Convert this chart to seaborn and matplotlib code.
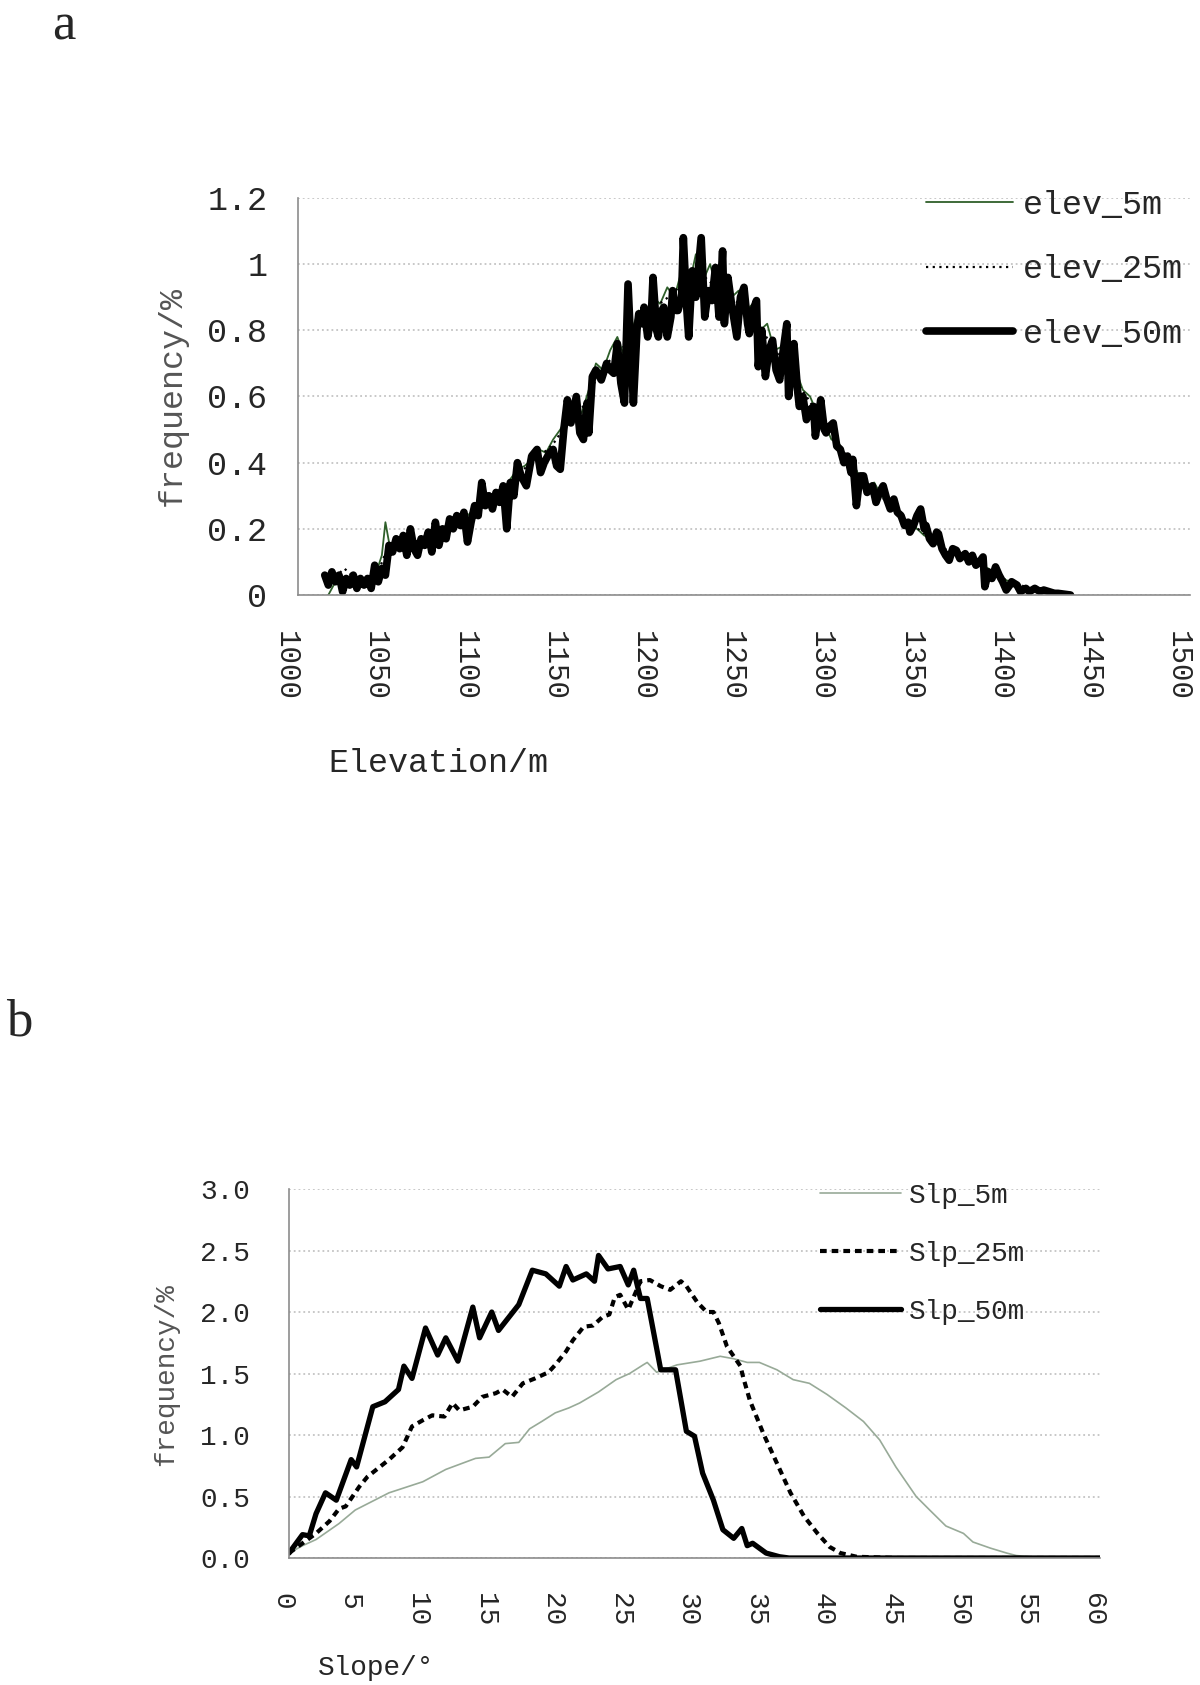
import numpy as np
import pandas as pd
import matplotlib
matplotlib.use("Agg")
import matplotlib.pyplot as plt
import matplotlib.transforms as mtransforms
import seaborn as sns

# ---- panel a: elevation frequency ----
elev50_x = [1015, 1017, 1019, 1021, 1023, 1025, 1027, 1029, 1031, 1033, 1035, 1037, 1039, 1041, 1043, 1045,
            1047, 1049, 1051, 1053, 1055, 1057, 1059, 1061, 1063, 1065, 1067, 1069, 1071, 1073, 1075, 1077,
            1079, 1081, 1083, 1085, 1087, 1089, 1091, 1093, 1095, 1097, 1099, 1101, 1103, 1105, 1107, 1109,
            1111, 1113, 1115, 1117, 1119, 1121, 1123, 1125, 1128, 1131, 1134, 1136, 1138, 1141, 1143, 1145,
            1147, 1149, 1151, 1153, 1156, 1158, 1160, 1162, 1163, 1165, 1167, 1170, 1173, 1175, 1177, 1179,
            1181, 1183, 1185, 1187, 1188, 1190, 1191, 1193, 1194, 1196, 1198, 1199, 1201, 1202, 1204, 1205,
            1207, 1209, 1210, 1212, 1213, 1215, 1216, 1218, 1219, 1221, 1223, 1226, 1228, 1230, 1232, 1234,
            1236, 1238, 1239, 1241, 1243, 1246, 1248, 1250, 1252, 1253, 1255, 1257, 1258, 1260, 1262, 1264,
            1266, 1268, 1270, 1272, 1274, 1275, 1277, 1278, 1280, 1281, 1283, 1285, 1287, 1289, 1290, 1292,
            1293, 1295, 1296, 1298, 1300, 1302, 1304, 1306, 1308, 1310, 1311, 1313, 1315, 1317, 1319, 1320,
            1322, 1324, 1326, 1328, 1330, 1332, 1334, 1336, 1338, 1340, 1342, 1343, 1345, 1347, 1349, 1351,
            1352, 1354, 1356, 1358, 1359, 1361, 1363, 1365, 1367, 1369, 1371, 1374, 1376, 1378, 1380, 1382,
            1384, 1385, 1387, 1389, 1391, 1393, 1395, 1397, 1399, 1400, 1403, 1405, 1408, 1410, 1413, 1416,
            1418, 1421, 1424, 1426, 1430, 1433]
elev50_y = [0.06, 0.03, 0.07, 0.04, 0.06, 0.01, 0.05, 0.03, 0.06, 0.02, 0.05, 0.03, 0.05, 0.02, 0.09, 0.04,
            0.08, 0.06, 0.15, 0.13, 0.17, 0.14, 0.18, 0.12, 0.20, 0.14, 0.12, 0.17, 0.15, 0.19, 0.13, 0.22,
            0.15, 0.20, 0.17, 0.23, 0.20, 0.24, 0.21, 0.25, 0.16, 0.22, 0.27, 0.24, 0.34, 0.27, 0.30, 0.26,
            0.31, 0.28, 0.33, 0.20, 0.34, 0.30, 0.40, 0.36, 0.33, 0.42, 0.44, 0.37, 0.40, 0.43, 0.44, 0.39,
            0.38, 0.50, 0.59, 0.52, 0.60, 0.49, 0.47, 0.58, 0.49, 0.66, 0.68, 0.65, 0.70, 0.68, 0.67, 0.76,
            0.64, 0.58, 0.94, 0.70, 0.58, 0.80, 0.85, 0.82, 0.87, 0.78, 0.84, 0.96, 0.80, 0.78, 0.86, 0.87,
            0.78, 0.84, 0.92, 0.86, 0.86, 0.90, 1.08, 0.86, 0.78, 0.98, 0.90, 1.08, 0.84, 0.92, 0.89, 0.99,
            0.84, 1.04, 0.82, 0.96, 0.88, 0.78, 0.90, 0.93, 0.82, 0.79, 0.86, 0.89, 0.69, 0.80, 0.66, 0.74,
            0.77, 0.68, 0.65, 0.74, 0.82, 0.60, 0.70, 0.76, 0.62, 0.57, 0.60, 0.53, 0.56, 0.57, 0.48, 0.55,
            0.59, 0.50, 0.49, 0.51, 0.52, 0.45, 0.44, 0.40, 0.42, 0.37, 0.41, 0.27, 0.36, 0.36, 0.31, 0.32,
            0.33, 0.28, 0.31, 0.33, 0.29, 0.26, 0.29, 0.25, 0.24, 0.21, 0.22, 0.19, 0.21, 0.24, 0.26, 0.20,
            0.21, 0.17, 0.155, 0.19, 0.185, 0.14, 0.12, 0.105, 0.14, 0.135, 0.11, 0.125, 0.10, 0.12, 0.09, 0.10,
            0.115, 0.025, 0.07, 0.05, 0.085, 0.06, 0.04, 0.015, 0.03, 0.04, 0.03, 0.01, 0.02, 0.01, 0.02, 0.01,
            0.015, 0.01, 0.005, 0.005, 0.002, 0.0]

elev5_x = [1017, 1020, 1024, 1028, 1032, 1036, 1040, 1044, 1047, 1049, 1051, 1055, 1059, 1063, 1067, 1071,
           1075, 1079, 1083, 1087, 1091, 1095, 1099, 1103, 1107, 1111, 1115, 1119, 1123, 1127, 1131, 1135,
           1139, 1143, 1147, 1151, 1155, 1159, 1163, 1167, 1171, 1175, 1179, 1183, 1187, 1191, 1195, 1199,
           1203, 1207, 1211, 1215, 1219, 1223, 1227, 1231, 1235, 1239, 1243, 1247, 1251, 1255, 1259, 1263,
           1267, 1271, 1275, 1279, 1283, 1287, 1291, 1295, 1299, 1303, 1307, 1311, 1315, 1319, 1323, 1327,
           1331, 1335, 1339, 1343, 1347, 1351, 1355, 1359, 1363, 1367, 1371, 1375, 1379, 1383, 1387, 1391,
           1395, 1399, 1403, 1407, 1411, 1415, 1420, 1425, 1430]
elev5_y = [0.00, 0.03, 0.05, 0.04, 0.05, 0.04, 0.05, 0.07, 0.12, 0.22, 0.16, 0.14, 0.16, 0.15, 0.15, 0.17,
           0.18, 0.19, 0.21, 0.22, 0.23, 0.24, 0.26, 0.28, 0.30, 0.27, 0.31, 0.35, 0.38, 0.39, 0.41, 0.44,
           0.43, 0.47, 0.50, 0.54, 0.57, 0.55, 0.62, 0.70, 0.68, 0.74, 0.78, 0.72, 0.80, 0.86, 0.82, 0.90,
           0.88, 0.93, 0.90, 0.98, 0.93, 1.03, 0.95, 1.00, 0.92, 0.97, 0.90, 0.92, 0.86, 0.88, 0.80, 0.82,
           0.74, 0.75, 0.68, 0.68, 0.62, 0.60, 0.55, 0.52, 0.47, 0.46, 0.42, 0.39, 0.36, 0.33, 0.34, 0.30,
           0.28, 0.26, 0.23, 0.22, 0.20, 0.18, 0.17, 0.15, 0.13, 0.13, 0.11, 0.12, 0.10, 0.09, 0.08, 0.06,
           0.05, 0.04, 0.03, 0.02, 0.02, 0.01, 0.01, 0.005, 0.0]

elev25_x = [1015, 1018, 1022, 1026, 1030, 1035, 1040, 1045, 1050, 1055, 1060, 1065, 1070, 1075, 1080, 1085,
            1090, 1095, 1100, 1105, 1110, 1115, 1120, 1125, 1130, 1135, 1140, 1145, 1150, 1155, 1160, 1165,
            1170, 1175, 1180, 1185, 1190, 1195, 1200, 1205, 1210, 1215, 1220, 1225, 1230, 1235, 1240, 1245,
            1250, 1255, 1260, 1265, 1270, 1275, 1280, 1285, 1290, 1295, 1300, 1305, 1310, 1315, 1320, 1325,
            1330, 1335, 1340, 1345, 1350, 1355, 1360, 1365, 1370, 1375, 1380, 1385, 1390, 1395, 1400, 1405,
            1410, 1415, 1420, 1425, 1432]
elev25_y = [0.05, 0.07, 0.06, 0.08, 0.06, 0.05, 0.05, 0.07, 0.14, 0.15, 0.16, 0.16, 0.17, 0.18, 0.20, 0.21,
            0.22, 0.23, 0.26, 0.28, 0.29, 0.31, 0.34, 0.37, 0.40, 0.42, 0.44, 0.47, 0.52, 0.56, 0.57, 0.63,
            0.68, 0.71, 0.74, 0.76, 0.82, 0.85, 0.87, 0.89, 0.91, 0.94, 0.97, 0.98, 0.95, 0.93, 0.92, 0.89,
            0.87, 0.84, 0.80, 0.76, 0.72, 0.68, 0.64, 0.60, 0.56, 0.52, 0.48, 0.44, 0.40, 0.36, 0.33, 0.31,
            0.28, 0.26, 0.23, 0.21, 0.19, 0.17, 0.15, 0.13, 0.12, 0.11, 0.10, 0.08, 0.07, 0.05, 0.04, 0.03,
            0.02, 0.01, 0.01, 0.005, 0.0]

# ---- panel b: slope frequency ----
slp5_x = [0, 1, 2, 3.7, 4.9, 7.4, 9.9, 11.6, 13.8, 14.8, 16, 17, 17.8, 18.7, 19.7, 20.7, 21.5, 22.9, 24.2,
          25.2, 26.2, 26.5, 27.2, 28.7, 30.4, 31.9, 32.9, 33.9, 34.8, 36.1, 37.3, 38.5, 39.8, 41.2, 42.5,
          43.7, 44.9, 46.4, 47.4, 48.6, 49.9, 50.6, 51.9, 53.1, 53.8, 54.8, 56, 60]
slp5_y = [0.04, 0.10, 0.15, 0.28, 0.39, 0.53, 0.62, 0.72, 0.81, 0.82, 0.93, 0.94, 1.05, 1.11, 1.18, 1.22,
          1.26, 1.35, 1.45, 1.50, 1.57, 1.59, 1.51, 1.57, 1.60, 1.64, 1.62, 1.59, 1.59, 1.53, 1.45, 1.42,
          1.33, 1.22, 1.11, 0.96, 0.74, 0.50, 0.39, 0.26, 0.20, 0.13, 0.08, 0.04, 0.02, 0.01, 0, 0]

slp25_x = [0, 1, 2, 3, 3.7, 4.2, 5.2, 5.8, 7.4, 8.4, 9.1, 9.9, 10.6, 11.5, 12.1, 12.6, 13.6, 14.3, 15.3,
           15.8, 16.5, 17.3, 18.2, 19.2, 19.7, 20.5, 21, 21.8, 22.5, 23.2, 23.7, 24.1, 24.5, 25.1, 26, 26.7,
           27.5, 28.2, 29, 29.4, 30.2, 30.9, 31.4, 31.8, 32.4, 33.4, 33.6, 34.1, 35.1, 36.1, 37.1, 38.1,
           39.1, 40, 40.8, 42, 45, 50, 55, 60]
slp25_y = [0.04, 0.12, 0.20, 0.30, 0.40, 0.42, 0.58, 0.66, 0.80, 0.90, 1.07, 1.12, 1.16, 1.15, 1.26, 1.20,
           1.23, 1.31, 1.34, 1.37, 1.31, 1.42, 1.46, 1.51, 1.57, 1.68, 1.77, 1.88, 1.89, 1.96, 1.98, 2.12,
           2.14, 2.02, 2.25, 2.26, 2.21, 2.18, 2.25, 2.21, 2.08, 2.00, 2.00, 1.91, 1.72, 1.56, 1.47, 1.28,
           1.01, 0.77, 0.53, 0.34, 0.20, 0.09, 0.04, 0.01, 0, 0, 0, 0]

slp50_x = [0, 1, 1.5, 2, 2.7, 3.5, 4.6, 5, 6.2, 7.1, 8.1, 8.5, 9.1, 10.1, 11, 11.6, 12.5, 13.6, 14.1, 15,
           15.5, 17, 18, 19, 20, 20.5, 21, 22, 22.6, 22.9, 23.6, 24.5, 25.1, 25.5, 26, 26.5, 27.5, 28.6,
           29.4, 30, 30.6, 31.4, 32.1, 32.9, 33.5, 33.9, 34.3, 35.3, 36.3, 37, 40, 45, 50, 55, 60]
slp50_y = [0.04, 0.19, 0.18, 0.36, 0.53, 0.47, 0.80, 0.74, 1.23, 1.27, 1.37, 1.56, 1.46, 1.87, 1.65, 1.79,
           1.60, 2.04, 1.79, 2.00, 1.85, 2.06, 2.34, 2.31, 2.21, 2.37, 2.26, 2.31, 2.25, 2.46, 2.35, 2.37,
           2.22, 2.34, 2.11, 2.11, 1.53, 1.53, 1.03, 0.99, 0.69, 0.47, 0.23, 0.16, 0.24, 0.10, 0.12, 0.04,
           0.01, 0, 0, 0, 0, 0, 0]

sns.set_style("white")
plt.rcParams['font.family'] = ['Liberation Mono', 'DejaVu Sans']

W, H = 1200, 1685
fig = plt.figure(figsize=(W / 100, H / 100), dpi=100)


def style_axes(ax, tick_len):
    for s in ['top', 'right']:
        ax.spines[s].set_visible(False)
    for s in ['left', 'bottom']:
        ax.spines[s].set_color('#8c8c8c')
        ax.spines[s].set_linewidth(1.2)
    ax.yaxis.grid(True, linestyle=':', color='#c4c4c4', linewidth=1.3)
    ax.xaxis.grid(False)
    ax.tick_params(axis='both', direction='in', length=tick_len, width=1.1, color='#8c8c8c')


def shift_xlabels(ax, dx_px):
    # rotated tick labels sit a little left of their ticks in the original
    off = mtransforms.ScaledTranslation(dx_px / 100, 0, fig.dpi_scale_trans)
    for lab in ax.get_xticklabels():
        lab.set_transform(lab.get_transform() + off)


# panel a
ax1 = fig.add_axes([298 / W, 1 - 595 / H, (1190 - 298) / W, (595 - 198) / H])
sns.lineplot(x=elev5_x, y=elev5_y, ax=ax1, color='#2f5f2a', lw=1.3, estimator=None, sort=False)
sns.lineplot(x=elev25_x, y=elev25_y, ax=ax1, color='black', lw=1.6, estimator=None, sort=False)
ax1.lines[-1].set_linestyle((0, (1, 2)))
sns.lineplot(x=elev50_x, y=elev50_y, ax=ax1, color='black', lw=5.5, estimator=None, sort=False)
ax1.set_xlim(1000, 1500)
ax1.set_ylim(0, 1.2)
ax1.set_xticks(np.arange(1000, 1501, 50))
ax1.set_yticks([0, 0.2, 0.4, 0.6, 0.8, 1.0, 1.2])
ax1.set_yticklabels(['0', '0.2', '0.4', '0.6', '0.8', '1', '1.2'], fontsize=24)
ax1.set_xticklabels([str(v) for v in range(1000, 1501, 50)], rotation=-90, fontsize=21)
style_axes(ax1, 9)
ax1.tick_params(axis='x', pad=26)
ax1.tick_params(axis='y', pad=22)
ax1.set_xlabel('')
ax1.set_ylabel('')
shift_xlabels(ax1, -12)
ax1.legend(ax1.lines, ['elev_5m', 'elev_25m', 'elev_50m'], loc='upper left',
           bbox_to_anchor=(0.704, 1.02), frameon=False, fontsize=24, handlelength=2.6,
           handletextpad=0.3, labelspacing=1.0, borderpad=0, borderaxespad=0)

# panel b
ax2 = fig.add_axes([289 / W, 1 - 1558 / H, (1100 - 289) / W, (1558 - 1189) / H])
sns.lineplot(x=slp5_x, y=slp5_y, ax=ax2, color='#98aa98', lw=1.2, estimator=None, sort=False)
sns.lineplot(x=slp25_x, y=slp25_y, ax=ax2, color='black', lw=3.0, estimator=None, sort=False)
ax2.lines[-1].set_linestyle((0, (1.6, 1.2)))
sns.lineplot(x=slp50_x, y=slp50_y, ax=ax2, color='black', lw=3.8, estimator=None, sort=False)
ax2.set_xlim(0, 60)
ax2.set_ylim(0, 3.0)
ax2.set_xticks(np.arange(0, 61, 5))
ax2.set_yticks(np.arange(0, 3.01, 0.5))
ax2.set_yticklabels([f'{v:.1f}' for v in np.arange(0, 3.01, 0.5)], fontsize=20)
ax2.set_xticklabels([str(v) for v in range(0, 61, 5)], rotation=-90, fontsize=20)
style_axes(ax2, 8)
ax2.tick_params(axis='x', pad=25)
ax2.tick_params(axis='y', pad=28)
ax2.set_xlabel('')
ax2.set_ylabel('')
shift_xlabels(ax2, -7)
ax2.legend(ax2.lines, ['Slp_5m', 'Slp_25m', 'Slp_50m'], loc='upper left',
           bbox_to_anchor=(0.655, 1.017), frameon=False, fontsize=20, handlelength=2.9,
           handletextpad=0.3, labelspacing=1.15, borderpad=0, borderaxespad=0)

# labels
fig.text(64 / W, 1 - 2 / H, 'a', family='Liberation Serif', fontsize=38, ha='center', va='top')
fig.text(19 / W, 1 - 1022 / H, 'b', family='Liberation Serif', fontsize=38, ha='center', va='center')
fig.text(438 / W, 1 - 763 / H, 'Elevation/m', fontsize=24, ha='center', va='center')
fig.text(376 / W, 1 - 1668 / H, 'Slope/°', fontsize=20, ha='center', va='center')
fig.text(172 / W, 1 - 396 / H, 'frequency/%', fontsize=24, color='#555555', rotation=90,
         ha='center', va='center')
fig.text(166 / W, 1 - 1375 / H, 'frequency/%', fontsize=20, color='#555555', rotation=90,
         ha='center', va='center')

fig.savefig('out.png', dpi=100)
